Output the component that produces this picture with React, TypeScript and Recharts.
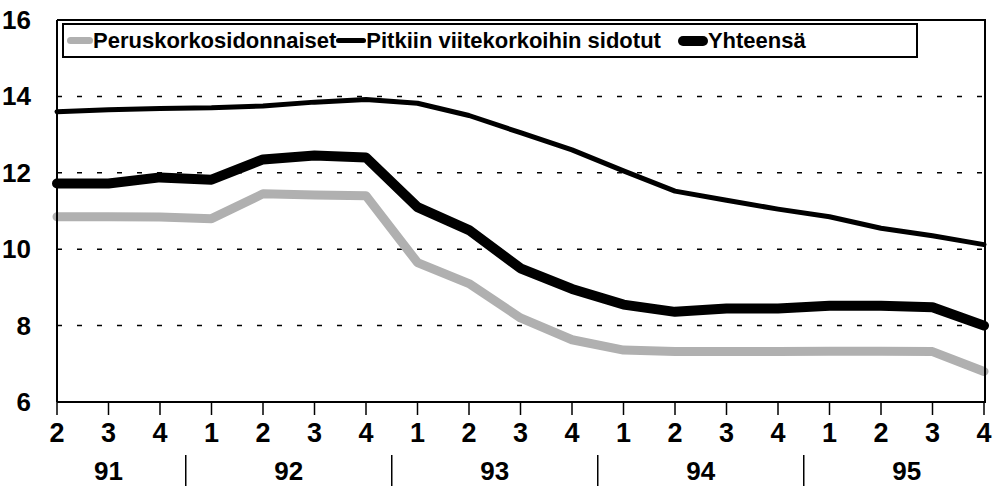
import { LineChart, Line, XAxis, YAxis, CartesianGrid } from 'recharts';

const quarters = ['2', '3', '4', '1', '2', '3', '4', '1', '2', '3', '4', '1', '2', '3', '4', '1', '2', '3', '4'];
const years = ['91', '92', '93', '94', '95'];
const yearCenters = [1, 4.5, 8.5, 12.5, 16.5];
const yearBreaks = [2.5, 6.5, 10.5, 14.5];

const perus = [10.85, 10.85, 10.84, 10.8, 11.45, 11.42, 11.4, 9.65, 9.1, 8.2, 7.63, 7.36, 7.32, 7.32, 7.32, 7.33, 7.33, 7.32, 6.8];
const pitkiin = [13.6, 13.65, 13.68, 13.7, 13.75, 13.85, 13.92, 13.82, 13.5, 13.05, 12.6, 12.05, 11.52, 11.28, 11.05, 10.85, 10.55, 10.35, 10.12];
const yhteensa = [11.72, 11.72, 11.88, 11.82, 12.35, 12.45, 12.4, 11.1, 10.5, 9.5, 8.96, 8.55, 8.36, 8.45, 8.45, 8.52, 8.52, 8.48, 8.0];

const yTicks = [6, 8, 10, 12, 14, 16];

const data = quarters.map((q, i) => ({ i, q, perus: perus[i], pitkiin: pitkiin[i], yhteensa: yhteensa[i] }));

const FONT = "'Liberation Sans', Arial, sans-serif";

const series = [
  { key: 'perus', name: 'Peruskorkosidonnaiset', color: '#b0b0b0', width: 9, swatch: { w: 26, h: 7 } },
  { key: 'pitkiin', name: 'Pitkiin viitekorkoihin sidotut', color: '#000', width: 5, swatch: { w: 30, h: 5 } },
  { key: 'yhteensa', name: 'Yhteensä', color: '#000', width: 10, swatch: { w: 30, h: 10 } },
];

function QuarterTick({ x, y, payload }: any) {
  return (
    <text x={x} y={y + 19} textAnchor="middle" fontFamily={FONT} fontWeight={700} fontSize={27} fill="#000">
      {quarters[payload.value]}
    </text>
  );
}

function ValueTick({ x, y, payload }: any) {
  return (
    <text x={x} y={y + 9} textAnchor="end" fontFamily={FONT} fontWeight={700} fontSize={26} fill="#000">
      {payload.value}
    </text>
  );
}

function YearTick({ x, y, payload }: any) {
  const idx = yearCenters.indexOf(payload.value);
  if (idx < 0) {
    return <line x1={x} x2={x} y1={y} y2={y + 31} stroke="#000" strokeWidth={1.5} />;
  }
  return (
    <text x={x} y={y + 25} textAnchor="middle" fontFamily={FONT} fontWeight={700} fontSize={26} fill="#000">
      {years[idx]}
    </text>
  );
}

function ChartLegend() {
  return (
    <div style={{
      position: 'absolute', left: 62, top: 23, width: 849, height: 31,
      border: '2px solid #000', background: '#fff', display: 'flex', alignItems: 'center',
      fontFamily: FONT, fontWeight: 700, fontSize: 22, color: '#000', paddingLeft: 3,
    }}>
      {series.map((s, n) => (
        <div key={s.key} style={{ display: 'flex', alignItems: 'center', marginLeft: n === 2 ? 17 : 0 }}>
          <span style={{
            width: s.swatch.w, height: s.swatch.h, background: s.color,
            borderRadius: s.swatch.h / 2, display: 'inline-block',
          }} />
          <span style={{ whiteSpace: 'nowrap' }}>{s.name}</span>
        </div>
      ))}
    </div>
  );
}

export default function App() {
  const axisLine = { stroke: '#000', strokeWidth: 2 };
  return (
    <div style={{ position: 'absolute', left: 0, top: 0, width: 996, height: 486, background: '#fff' }}>
      <LineChart width={996} height={486} data={data} margin={{ top: 20, right: 12, bottom: 0, left: 0 }}>
        <CartesianGrid vertical={false} stroke="#000" strokeWidth={1.5} strokeDasharray="5 15" />
        <XAxis
          dataKey="i" type="number" domain={[0, 18]} ticks={data.map(d => d.i)} interval={0}
          height={53} tickSize={13} tickMargin={8} tick={<QuarterTick />}
          axisLine={axisLine} tickLine={{ stroke: '#000', strokeWidth: 1.5 }}
        />
        <XAxis
          xAxisId="yr" dataKey="i" type="number" domain={[0, 18]} ticks={[...yearCenters, ...yearBreaks]} interval={0}
          height={31} tickSize={0} tickMargin={0} axisLine={false} tickLine={false} tick={<YearTick />}
        />
        <YAxis
          domain={[6, 16]} ticks={yTicks} interval={0} width={57} tickLine={false} tickMargin={20}
          tick={<ValueTick />} axisLine={axisLine}
        />
        {series.map(s => (
          <Line
            key={s.key} type="linear" dataKey={s.key} name={s.name} stroke={s.color} strokeWidth={s.width}
            strokeLinecap="round" strokeLinejoin="round" dot={false} isAnimationActive={false}
          />
        ))}
      </LineChart>
      {/* plot frame: top and right edges */}
      <div style={{
        position: 'absolute', left: 57, top: 19, width: 929, height: 384, boxSizing: 'border-box', zIndex: 5,
        borderTop: '2px solid #000', borderRight: '2px solid #000', pointerEvents: 'none',
      }} />
      <ChartLegend />
    </div>
  );
}
